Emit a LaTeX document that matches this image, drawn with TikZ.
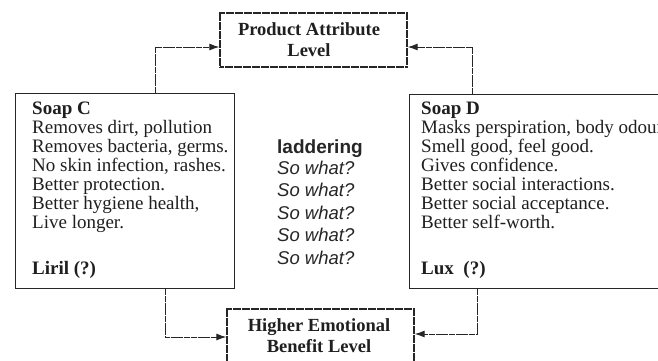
\documentclass[tikz,border=0pt]{standalone}
\usepackage{fontspec}
\setmainfont{Liberation Serif}
\newfontfamily\ladderfont{Liberation Sans}
\usetikzlibrary{arrows.meta}
\begin{document}
\begin{tikzpicture}[x=1pt,y=-1pt,
  levelbox/.style={draw=black!85, line width=1.3pt, dash pattern=on 4pt off 0.5pt,
    minimum width=187pt, minimum height=54pt, inner sep=0pt},
  leveltext/.style={inner sep=0pt, align=center,
    font=\fontsize{18.5}{21}\selectfont\bfseries, text=black!88},
  soapbox/.style={draw=black!85, line width=1.1pt, anchor=north west, inner sep=0pt},
  soapline/.style={anchor=base west, inner sep=0pt, font=\fontsize{19}{19}\selectfont, text=black!88},
  soaphead/.style={soapline, font=\fontsize{19}{19}\selectfont\bfseries},
  laddertitle/.style={anchor=base west, inner sep=0pt, font=\ladderfont\fontsize{19}{19}\selectfont\bfseries, text=black!85},
  ladderstep/.style={anchor=base west, inner sep=0pt, font=\ladderfont\fontsize{18.5}{19}\selectfont\itshape, text=black!85},
  link/.style={draw=black!85, line width=1pt, dash pattern=on 6pt off 0.7pt,
    -{Latex[length=10pt,width=7pt]}}
]
\useasboundingbox (0,0) rectangle (658,360);
\fill[white] (0,0) rectangle (658,360);

% the two levels
\node[levelbox] (attr) at (313.5,40) {};
\node[leveltext] (attrText) at (309,39.5) {Product Attribute\\Level};
\node[levelbox] (benefit) at (320.5,336) {};
\node[leveltext] (benefitText) at (319,335.5) {Higher Emotional\\Benefit Level};

% the two soap boxes
\node[soapbox, minimum width=219pt, minimum height=195pt] (soapC) at (15,93) {};
\node[soapbox, minimum width=262pt, minimum height=194pt] (soapD) at (409,94) {};

% Soap C
\node[soaphead] (c0) at (32,114) {Soap C};
\node[soapline] (c1) at (32,133) {Removes dirt, pollution};
\node[soapline] (c2) at (32,152) {Removes bacteria, germs.};
\node[soapline] (c3) at (32,171) {No skin infection, rashes.};
\node[soapline] (c4) at (32,190) {Better protection.};
\node[soapline] (c5) at (32,209) {Better hygiene health,};
\node[soapline] (c6) at (32,228) {Live longer.};
\node[soaphead] (c7) at (32,274) {Liril (?)};

% Soap D
\node[soaphead] (d0) at (421,114) {Soap D};
\node[soapline] (d1) at (421,133) {Masks perspiration, body odour};
\node[soapline] (d2) at (421,152) {Smell good, feel good.};
\node[soapline] (d3) at (421,171) {Gives confidence.};
\node[soapline] (d4) at (421,190) {Better social interactions.};
\node[soapline] (d5) at (421,209) {Better social acceptance.};
\node[soapline] (d6) at (421,228) {Better self-worth.};
\node[soaphead] (d7) at (421,274) {Lux\ \ (?)};

% laddering questions
\node[laddertitle] (lad) at (277,153) {laddering};
\node[ladderstep] (q1) at (277,174) {So what?};
\node[ladderstep] (q2) at (277,196.5) {So what?};
\node[ladderstep] (q3) at (277,219) {So what?};
\node[ladderstep] (q4) at (277,241.5) {So what?};
\node[ladderstep] (q5) at (277,264) {So what?};

% connectors
\draw[link] (soapC.north -| 155,0) |- (attr.west |- 0,47);
\draw[link] (soapD.north -| 472,0) |- (attr.east |- 0,47);
\draw[link] (soapC.south -| 165,0) |- (benefit.west |- 0,337);
\draw[link] (soapD.south -| 477,0) |- (benefit.east |- 0,334);
\end{tikzpicture}
\end{document}
